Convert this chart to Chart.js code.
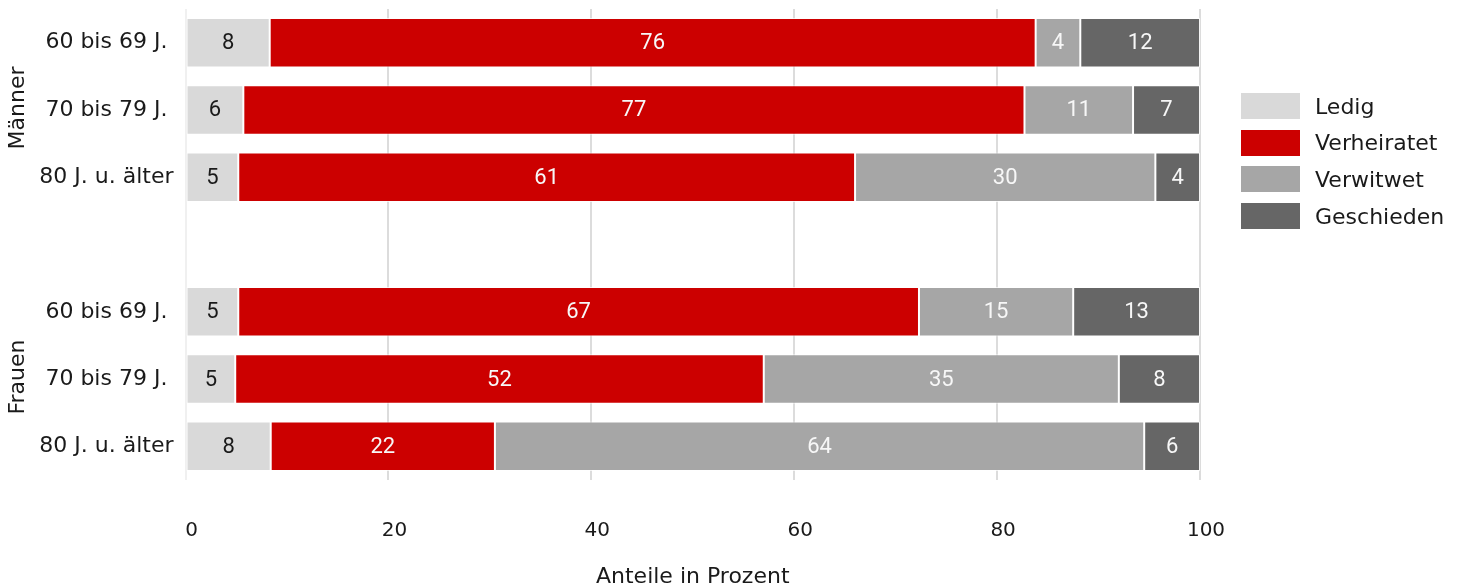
<!DOCTYPE html>
<html lang="de">
<head>
<meta charset="utf-8">
<title>Familienstand nach Altersgruppen</title>
<script src="https://cdn.jsdelivr.net/npm/chart.js@4/dist/chart.umd.min.js"></script>
<style>
  html, body { margin: 0; padding: 0; background: #fff; }
  #wrap { position: relative; width: 1462px; height: 587px; }
  #legend { position: absolute; left: 1241px; top: 93px; font-family: 'DejaVu Sans', sans-serif; font-size: 22px; color: #1a1a1a; }
  #legend .item { display: flex; align-items: center; height: 26px; margin-bottom: 10.7px; }
  #legend .swatch { width: 59px; height: 26px; margin-right: 15px; }
</style>
</head>
<body>
<div id="wrap">
  <canvas id="chart" width="1462" height="587"></canvas>
  <div id="legend"></div>
</div>
<script>
// Data (Anteile in Prozent), empty row separates Männer / Frauen
const categories = ['60 bis 69 J.', '70 bis 79 J.', '80 J. u. älter', '', '60 bis 69 J.', '70 bis 79 J.', '80 J. u. älter'];
const groups = ['Männer', 'Frauen'];
const groupMiddleRow = [1, 5];

const ledig       = [8.3, 5.7, 5.2, null, 5.2, 4.9, 8.4];
const verheiratet = [75.5, 77.0, 60.8, null, 67.1, 52.1, 22.1];
const verwitwet   = [4.4, 10.7, 29.6, null, 15.2, 35.0, 64.0];
const geschieden  = [11.8, 6.6, 4.4, null, 12.5, 8.0, 5.5];

const seriesNames = ['Ledig', 'Verheiratet', 'Verwitwet', 'Geschieden'];
const seriesValues = [ledig, verheiratet, verwitwet, geschieden];
const seriesColors = ['#d9d9d9', '#cc0000', '#a6a6a6', '#666666'];
const labelColors = ['#1a1a1a', '#f7f7f7', '#f7f7f7', '#f7f7f7'];

const xTicks = [0, 20, 40, 60, 80, 100];

const axisFont = 'DejaVu Sans';
const textColor = '#1a1a1a';

// value labels centred in each segment
const valueLabels = {
  id: 'valueLabels',
  afterDatasetsDraw(chart) {
    const ctx = chart.ctx;
    ctx.save();
    ctx.font = '22px Roboto';
    ctx.textAlign = 'center';
    ctx.textBaseline = 'middle';
    chart.data.datasets.forEach((ds, i) => {
      const meta = chart.getDatasetMeta(i);
      meta.data.forEach((bar, j) => {
        const v = ds.data[j];
        if (v == null) return;
        const p = bar.getProps(['x', 'y', 'base'], true);
        ctx.fillStyle = labelColors[i];
        ctx.fillText(Math.round(v), (p.x + p.base) / 2, p.y + 1);
      });
    });
    ctx.restore();
  }
};

// rotated group names on the left
const groupLabels = {
  id: 'groupLabels',
  afterDraw(chart) {
    const ctx = chart.ctx;
    const y = chart.scales.y;
    ctx.save();
    ctx.font = '22px ' + axisFont;
    ctx.fillStyle = textColor;
    ctx.textAlign = 'center';
    ctx.textBaseline = 'middle';
    groups.forEach((g, i) => {
      ctx.save();
      ctx.translate(18, y.getPixelForValue(groupMiddleRow[i]) - 2);
      ctx.rotate(-Math.PI / 2);
      ctx.fillText(g, 0, 0);
      ctx.restore();
    });
    ctx.restore();
  }
};

new Chart(document.getElementById('chart'), {
  type: 'bar',
  data: {
    labels: categories,
    datasets: seriesNames.map((name, i) => ({
      label: name,
      data: seriesValues[i],
      backgroundColor: seriesColors[i],
      borderColor: 'rgba(255,255,255,0.7)',
      borderWidth: 1,
      borderSkipped: false,
      categoryPercentage: 1,
      barPercentage: 0.736
    }))
  },
  options: {
    indexAxis: 'y',
    responsive: false,
    animation: false,
    layout: { padding: { top: 9, right: 262, left: 0, bottom: 0 } },
    plugins: {
      legend: { display: false },
      tooltip: { enabled: false }
    },
    scales: {
      x: {
        stacked: true,
        min: 0,
        max: 100,
        afterBuildTicks: s => { s.ticks = xTicks.map(v => ({ value: v })); },
        afterFit: s => { s.height = 107; s.paddingLeft = 0; s.paddingRight = 0; },
        ticks: { font: { family: axisFont, size: 20 }, color: textColor, padding: 39, labelOffset: 6, maxRotation: 0 },
        grid: { color: ctx => ctx.tick && ctx.tick.value === 0 ? '#f0f0f0' : '#dcdcdc', lineWidth: 2, drawTicks: false },
        border: { display: false },
        title: {
          display: true,
          text: 'Anteile in Prozent',
          font: { family: axisFont, size: 22 },
          color: textColor,
          padding: { top: 0, bottom: -3 }
        }
      },
      y: {
        stacked: true,
        afterFit: s => { s.width = 185.5; s.paddingTop = 0; s.paddingBottom = 0; },
        ticks: { font: { family: axisFont, size: 22 }, color: textColor, padding: 12, crossAlign: 'center' },
        grid: { display: false, drawTicks: false },
        border: { display: false }
      }
    }
  },
  plugins: [valueLabels, groupLabels]
});

// Legend
const legendEl = document.getElementById('legend');
seriesNames.forEach((name, i) => {
  const item = document.createElement('div');
  item.className = 'item';
  item.innerHTML = `<span class="swatch" style="background:${seriesColors[i]}"></span><span>${name}</span>`;
  legendEl.appendChild(item);
});
</script>
</body>
</html>
